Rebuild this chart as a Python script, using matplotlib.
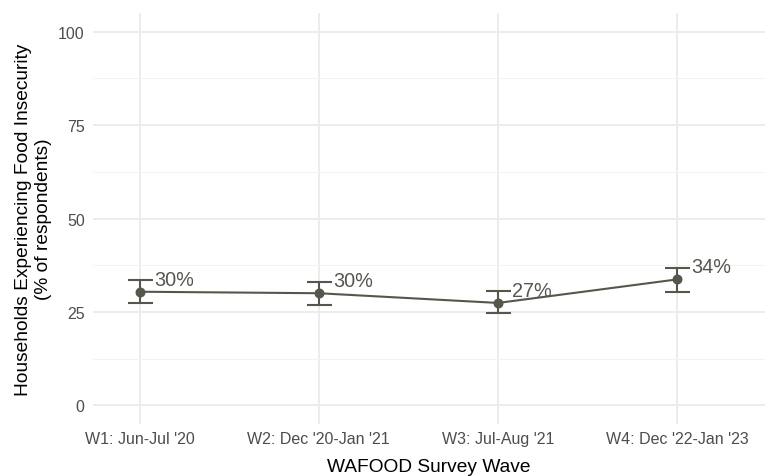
import numpy as np
import matplotlib.pyplot as plt

plt.rcParams['font.family'] = ['Liberation Sans', 'DejaVu Sans']

# survey waves and food insecurity estimates (% of respondents)
waves = ["W1: Jun-Jul '20", "W2: Dec '20-Jan '21", "W3: Jul-Aug '21", "W4: Dec '22-Jan '23"]
pct = [30.4, 30.0, 27.4, 33.7]
lower = [27.4, 26.9, 24.6, 30.4]
upper = [33.5, 33.1, 30.5, 36.8]

col = '#56574C'
grid_col = '#EBEBEB'

fig = plt.figure(figsize=(7.65, 4.77), dpi=100)
ax = fig.add_axes([93 / 765, 52 / 477, 672 / 765, 411 / 477])

x = np.arange(len(waves))
y = np.array(pct)
yerr = [y - np.array(lower), np.array(upper) - y]

ax.plot(x, y, color=col, lw=1.5, zorder=3)
ax.errorbar(x, y, yerr=yerr, fmt='none', ecolor=col, elinewidth=1.5,
            capsize=9, capthick=1.5, zorder=3)
ax.scatter(x, y, s=38, color=col, zorder=4)

for xi, yi in zip(x, y):
    ax.text(xi + 0.08, yi + 3.4, f"{round(yi):d}%", fontsize=14.3, color='#56574C',
            ha='left', va='center')

ax.set_xlim(-0.26, 3.49)
ax.set_ylim(-5, 105)
ax.set_xticks(x)
ax.set_xticklabels(waves)
ax.set_yticks([0, 25, 50, 75, 100])
ax.set_yticks([12.5, 37.5, 62.5, 87.5], minor=True)

ax.grid(True, which='major', color=grid_col, lw=1.3)
ax.grid(True, which='minor', axis='y', color='#F3F3F3', lw=0.8)
ax.set_axisbelow(True)
for s in ax.spines.values():
    s.set_visible(False)
ax.tick_params(which='both', length=0, labelsize=11.5, labelcolor='#4D4D4D')
ax.tick_params(axis='x', pad=5)
ax.tick_params(axis='y', pad=6)

ax.set_xlabel('WAFOOD Survey Wave', fontsize=13.8, color='black', labelpad=8.5)
ax.set_ylabel('Households Experiencing Food Insecurity\n(% of respondents)',
              fontsize=13.8, color='black', labelpad=4, linespacing=1.25)

fig.savefig('out.png', dpi=100, facecolor='white')
